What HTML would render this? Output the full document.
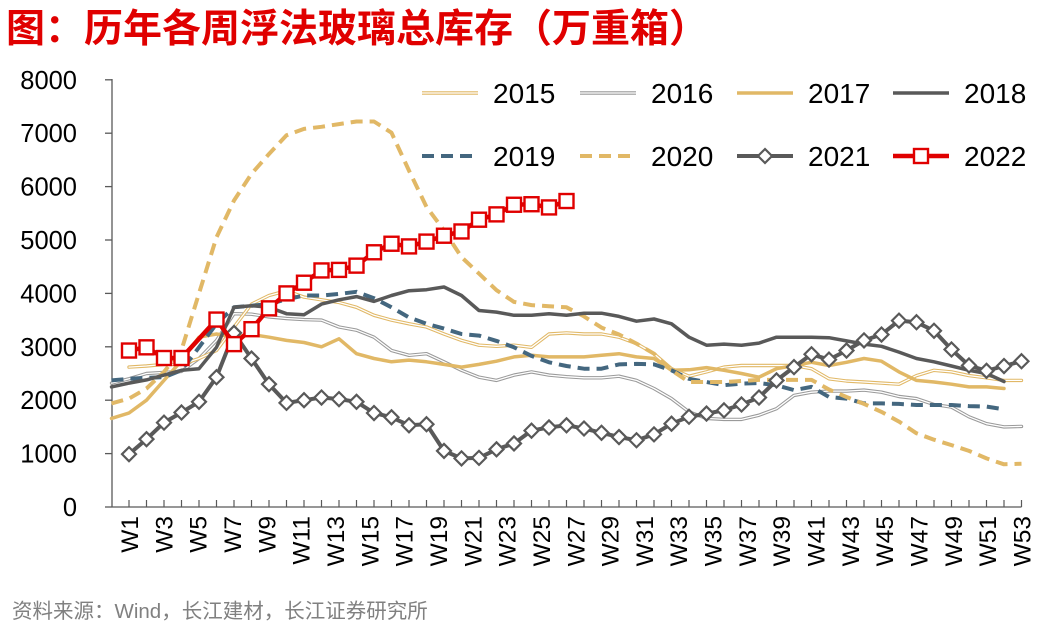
<!DOCTYPE html>
<html><head><meta charset="utf-8"><style>
body{margin:0;background:#fff;width:1040px;height:628px;overflow:hidden;font-family:"Liberation Sans","Noto Sans CJK SC",sans-serif}
</style></head><body>
<svg id="c" width="1040" height="628" xmlns="http://www.w3.org/2000/svg">
<text x="6" y="42" font-size="39" font-weight="bold" fill="#E00000" font-family="Liberation Sans, Noto Sans CJK SC, sans-serif">图：历年各周浮法玻璃总库存（万重箱）</text>
<text x="12" y="618" font-size="20.5" fill="#808080" font-family="Liberation Sans, Noto Sans CJK SC, sans-serif">资料来源：Wind，长江建材，长江证券研究所</text>
</svg>
<script>
const yTicks=[0,1000,2000,3000,4000,5000,6000,7000,8000];
const weeks=[];for(let i=1;i<=52;i++)weeks.push('W'+i);
const xLabels=['W1','W3','W5','W7','W9','W11','W13','W15','W17','W19','W21','W23','W25','W27','W29','W31','W33','W35','W37','W39','W41','W43','W45','W47','W49','W51','W53'];
const v2015=[2.62,2.64,2.67,2.67,2.78,2.93,3.37,3.80,3.96,4.05,3.93,3.88,3.83,3.74,3.59,3.50,3.43,3.37,3.24,3.12,3.03,3.01,3.03,2.99,3.24,3.26,3.24,3.24,3.18,3.06,2.87,2.59,2.45,2.53,2.62,2.65,2.65,2.65,2.65,2.59,2.40,2.36,2.34,2.32,2.30,2.46,2.56,2.53,2.46,2.42,2.37,2.37];
const v2016=[2.32,2.40,2.50,2.52,2.54,2.78,3.12,3.62,3.61,3.56,3.53,3.51,3.50,3.37,3.31,3.18,2.93,2.84,2.87,2.72,2.56,2.43,2.37,2.47,2.53,2.47,2.44,2.42,2.42,2.45,2.37,2.22,2.03,1.78,1.66,1.64,1.64,1.72,1.84,2.09,2.15,2.17,2.17,2.19,2.15,2.07,2.03,1.92,1.87,1.69,1.56,1.50,1.51];
const v2017=[1.66,1.76,2.00,2.37,2.74,3.18,3.24,3.18,3.23,3.18,3.12,3.08,3.00,3.15,2.87,2.78,2.72,2.75,2.72,2.67,2.62,2.67,2.73,2.81,2.84,2.81,2.81,2.81,2.84,2.87,2.81,2.78,2.56,2.57,2.61,2.56,2.50,2.43,2.59,2.65,2.71,2.65,2.71,2.78,2.73,2.53,2.37,2.34,2.30,2.25,2.25,2.22];
const v2018=[2.25,2.32,2.38,2.47,2.56,2.59,2.99,3.74,3.77,3.74,3.62,3.60,3.80,3.88,3.94,3.85,3.96,4.05,4.07,4.12,3.96,3.68,3.65,3.59,3.59,3.62,3.59,3.63,3.63,3.57,3.48,3.52,3.43,3.18,3.03,3.05,3.03,3.07,3.18,3.18,3.18,3.17,3.11,3.05,3.01,2.90,2.78,2.72,2.64,2.56,2.50,2.35];
const v2019=[2.37,2.40,2.42,2.43,2.56,2.99,3.43,3.74,3.77,3.80,3.89,3.96,3.96,3.99,4.03,3.91,3.74,3.55,3.43,3.34,3.24,3.21,3.11,2.99,2.83,2.71,2.64,2.59,2.59,2.67,2.68,2.67,2.56,2.40,2.34,2.28,2.31,2.32,2.28,2.19,2.25,2.06,2.03,1.94,1.94,1.93,1.91,1.91,1.91,1.89,1.88,1.83];
const v2020=[1.94,2.03,2.22,2.53,2.94,4.00,5.05,5.74,6.24,6.61,6.96,7.08,7.12,7.17,7.22,7.22,7.01,6.30,5.62,5.18,4.68,4.37,4.06,3.84,3.78,3.76,3.74,3.57,3.36,3.23,3.06,2.87,2.56,2.34,2.34,2.34,2.36,2.38,2.38,2.38,2.38,2.20,2.06,1.93,1.78,1.60,1.38,1.26,1.16,1.05,0.91,0.80,0.81];
const v2021=[0.99,1.27,1.58,1.77,1.97,2.43,3.26,2.78,2.30,1.95,2.00,2.05,2.02,1.97,1.76,1.68,1.53,1.55,1.05,0.91,0.92,1.08,1.19,1.43,1.49,1.53,1.47,1.39,1.31,1.25,1.36,1.56,1.69,1.75,1.81,1.92,2.05,2.37,2.62,2.86,2.76,2.93,3.12,3.23,3.49,3.46,3.30,2.95,2.65,2.55,2.64,2.73];
const v2022=[2.93,2.99,2.79,2.79,3.15,3.51,3.05,3.33,3.72,4.00,4.20,4.43,4.44,4.52,4.77,4.93,4.88,4.97,5.08,5.16,5.38,5.48,5.66,5.67,5.61,5.73];
const NS='http://www.w3.org/2000/svg';
const svg=document.getElementById('c');
const X0=129,STEP=17.5,Y0=507,YK=53.4;
const xs=i=>X0+STEP*i;
const ys=v=>Y0-v*YK;
function mk(t,a){const e=document.createElementNS(NS,t);for(const k in a)e.setAttribute(k,a[k]);svg.appendChild(e);return e;}
let ax=mk('line',{x1:112,y1:79,x2:112,y2:507,stroke:'#595959','stroke-width':1.3});


let bx=mk('line',{x1:112,y1:507,x2:xs(51),y2:507,stroke:'#595959','stroke-width':1.3});


yTicks.forEach(t=>{
 const y=ys(t/1000);
 mk('line',{x1:105,y1:y,x2:112,y2:y,stroke:'#595959','stroke-width':1.3});
 const tx=mk('text',{x:77,y:y+9,'font-size':25.5,'text-anchor':'end',fill:'#000'});tx.textContent=t;
 
 
});
weeks.forEach((w,i)=>{mk('line',{x1:xs(i),y1:500,x2:xs(i),y2:507,stroke:'#595959','stroke-width':1.2});});
const lStep=(xs(51)-X0)/(xLabels.length-1);
xLabels.forEach((l,i)=>{
 const x=X0+lStep*i+9;
 const tx=mk('text',{x:x,y:516,'font-size':24.5,'text-anchor':'end',transform:`rotate(-90 ${x} 516)`,fill:'#000'});tx.textContent=l;
 
 
});
function pts(arr,start){return arr.map((v,i)=>xs(i+start).toFixed(1)+','+ys(v).toFixed(1)).join(' ');}
function line(arr,start,color,w,dash,name){
 const p=mk('polyline',{points:pts(arr,start),fill:'none',stroke:color,'stroke-width':w,'stroke-linejoin':'round','stroke-linecap':dash?'butt':'round'});
 if(dash)p.setAttribute('stroke-dasharray',dash);
 
 
 return p;
}
const GOLD='#E1B866',GRAY='#9A9A9A',DARK='#595959',BLUE='#44677F',RED='#E00000';
line(v2016,-1,GRAY,3.4,null,'series-2016');
line(v2016,-1,'#fff',1.3,null,'series-2016-inner');
line(v2015,0,GOLD,3.4,null,'series-2015');
line(v2015,0,'#fff',1.3,null,'series-2015-inner');
line(v2017,-1,GOLD,3.5,null,'series-2017');
line(v2019,-1,BLUE,4,'12,7','series-2019');
line(v2020,-1,GOLD,4,'12,7','series-2020');
line(v2018,-1,DARK,3.5,null,'series-2018');
line(v2021,0,DARK,4,null,'series-2021');
v2021.forEach((v,i)=>{
 const x=xs(i),y=ys(v);
 const d=mk('polygon',{points:`${x},${y-7} ${x+7},${y} ${x},${y+7} ${x-7},${y}`,fill:'#fff',stroke:DARK,'stroke-width':2.2});
 
 
});
line(v2022,0,RED,4.5,null,'series-2022');
v2022.forEach((v,i)=>{
 if(i===4)return;
 const x=xs(i),y=ys(v);
 const r=mk('rect',{x:x-7,y:y-7,width:14,height:14,fill:'#fff',stroke:RED,'stroke-width':2.4});
 
 
});
const leg=[['2015',422,93],['2016',580,93],['2017',737,93],['2018',893,93],['2019',422,156],['2020',580,156],['2021',737,156],['2022',893,156]];
leg.forEach(([n,x,y])=>{
 const x2=x+56,mx=x+28;
 if(n==='2015'){mk('line',{x1:x,y1:y,x2:x2,y2:y,stroke:GOLD,'stroke-width':3.4});mk('line',{x1:x,y1:y,x2:x2,y2:y,stroke:'#fff','stroke-width':1.3});}
 else if(n==='2016'){mk('line',{x1:x,y1:y,x2:x2,y2:y,stroke:GRAY,'stroke-width':3.4});mk('line',{x1:x,y1:y,x2:x2,y2:y,stroke:'#fff','stroke-width':1.3});}
 else if(n==='2017')mk('line',{x1:x,y1:y,x2:x2,y2:y,stroke:GOLD,'stroke-width':3.5});
 else if(n==='2018')mk('line',{x1:x,y1:y,x2:x2,y2:y,stroke:DARK,'stroke-width':3.5});
 else if(n==='2019')mk('line',{x1:x,y1:y,x2:x2,y2:y,stroke:BLUE,'stroke-width':4,'stroke-dasharray':'12,7'});
 else if(n==='2020')mk('line',{x1:x,y1:y,x2:x2,y2:y,stroke:GOLD,'stroke-width':4,'stroke-dasharray':'12,7'});
 else if(n==='2021'){mk('line',{x1:x,y1:y,x2:x2,y2:y,stroke:DARK,'stroke-width':4});mk('polygon',{points:`${mx},${y-7} ${mx+7},${y} ${mx},${y+7} ${mx-7},${y}`,fill:'#fff',stroke:DARK,'stroke-width':2.2});}
 else {mk('line',{x1:x,y1:y,x2:x2,y2:y,stroke:RED,'stroke-width':4.5});mk('rect',{x:mx-7,y:y-7,width:14,height:14,fill:'#fff',stroke:RED,'stroke-width':2.4});}
 const t=mk('text',{x:x+71,y:y+10,'font-size':28,fill:'#000'});t.textContent=n;
 
 
});
</script>
</body></html>
